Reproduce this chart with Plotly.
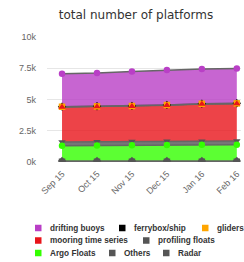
import numpy as np
import plotly.graph_objects as go

months = ["Sep 15", "Oct 15", "Nov 15", "Dec 15", "Jan 16", "Feb 16"]

# series in legend order (first = top of stack)
series_names = ["drifting buoys", "ferrybox/ship", "gliders", "mooring time series",
                "profiling floats", "Argo Floats", "Others", "Radar"]
drifting_buoys = [2630, 2660, 2760, 2790, 2770, 2790]
ferrybox_ship = [10, 10, 10, 10, 10, 10]
gliders = [20, 20, 20, 20, 20, 20]
mooring_time_series = [2800, 2810, 2820, 2880, 2970, 2990]
profiling_floats = [300, 300, 290, 290, 290, 290]
argo_floats = [1220, 1240, 1270, 1290, 1300, 1310]
others = [60, 60, 60, 60, 60, 60]
radar = [20, 20, 20, 20, 20, 20]
series_values = [drifting_buoys, ferrybox_ship, gliders, mooring_time_series,
                 profiling_floats, argo_floats, others, radar]

colors = ["#b93fc6", "#000000", "#ffa500", "#e8141a", "#555555", "#33ff00", "#555555", "#555555"]
fills = ["rgba(185,63,198,0.8)", "rgba(0,0,0,0.8)", "rgba(255,165,0,0.8)", "rgba(232,20,26,0.8)",
         "rgba(85,85,85,0.8)", "rgba(51,255,0,0.8)", "rgba(85,85,85,0.8)", "rgba(85,85,85,0.8)"]
symbols = ["circle", "diamond", "square", "triangle-up", "triangle-down", "circle", "diamond", "square"]

yticks = [0, 2500, 5000, 7500, 10000]
ytick_text = ["0k", "2.5k", "5k", "7.5k", "10k"]

W, H = 244, 262
ML, MR, MT, MB = 47, 3, 37, 100
PW, PH = W - ML - MR, H - MT - MB

fig = go.Figure()
# stacked areas: bottom series first
for i in reversed(range(len(series_names))):
    fig.add_trace(go.Scatter(
        x=months, y=series_values[i], name=series_names[i],
        stackgroup="one", mode="lines",
        line=dict(color="#666666", width=1.5),
        fillcolor=fills[i],
        hoverinfo="skip", showlegend=False,
    ))

# markers drawn in legend order so later series sit on top
arr = np.array(series_values, dtype=float)
tops = np.cumsum(arr[::-1], axis=0)[::-1]
for i in range(len(series_names)):
    fig.add_trace(go.Scatter(
        x=months, y=tops[i], mode="markers", name=series_names[i],
        marker=dict(symbol=symbols[i], color=colors[i], size=6.5, line=dict(width=0)),
        hoverinfo="skip", showlegend=False,
    ))

# legend drawn as swatches + labels (layout)
legend_rows = [[0, 1, 2], [3, 4], [5, 6, 7]]
legend_x = {0: 35, 1: 119, 2: 202, 3: 35, 4: 143, 5: 35, 6: 109, 7: 163}
legend_y = [228, 240.5, 253]

def px(xp):
    return (xp - ML) / PW

def py(yp):
    return (MT + PH - yp) / PH

shapes = []
annotations = []
for r, row in enumerate(legend_rows):
    for idx in row:
        x0 = legend_x[idx]
        yc = legend_y[r]
        shapes.append(dict(type="rect", xref="paper", yref="paper",
                           x0=px(x0), x1=px(x0 + 6.5), y0=py(yc + 3.25), y1=py(yc - 3.25),
                           fillcolor=colors[idx], line=dict(width=0)))
        annotations.append(dict(xref="paper", yref="paper", x=px(x0 + 13), y=py(yc),
                                xanchor="left", yanchor="middle", showarrow=False,
                                text="<b>" + series_names[idx] + "</b>",
                                font=dict(family="Liberation Sans", size=8.2, color="#333333")))

fig.update_layout(
    width=W, height=H,
    margin=dict(l=ML, r=MR, t=MT, b=MB),
    paper_bgcolor="white", plot_bgcolor="white",
    title=dict(text="total number of platforms", x=136 / W, xanchor="center",
               y=1 - 15 / H, yanchor="middle",
               font=dict(family="DejaVu Sans", size=12, color="#333333")),
    xaxis=dict(type="category", range=[-0.43, 5.12], showgrid=False, zeroline=False,
               showline=False, ticks="", tickangle=-45, ticklabelstandoff=4,
               tickfont=dict(family="Liberation Sans", size=9, color="#666666")),
    yaxis=dict(range=[0, 10000], tickvals=yticks, ticktext=ytick_text,
               showgrid=True, gridcolor="#e6e6e6", gridwidth=1, zeroline=False,
               ticks="", ticklabelstandoff=10,
               tickfont=dict(family="Liberation Sans", size=9, color="#666666")),
    shapes=shapes, annotations=annotations,
    showlegend=False,
)

fig.write_html("out.html", config={"displayModeBar": False},
               post_script="document.body.style.margin='0';document.body.style.overflow='hidden';")
